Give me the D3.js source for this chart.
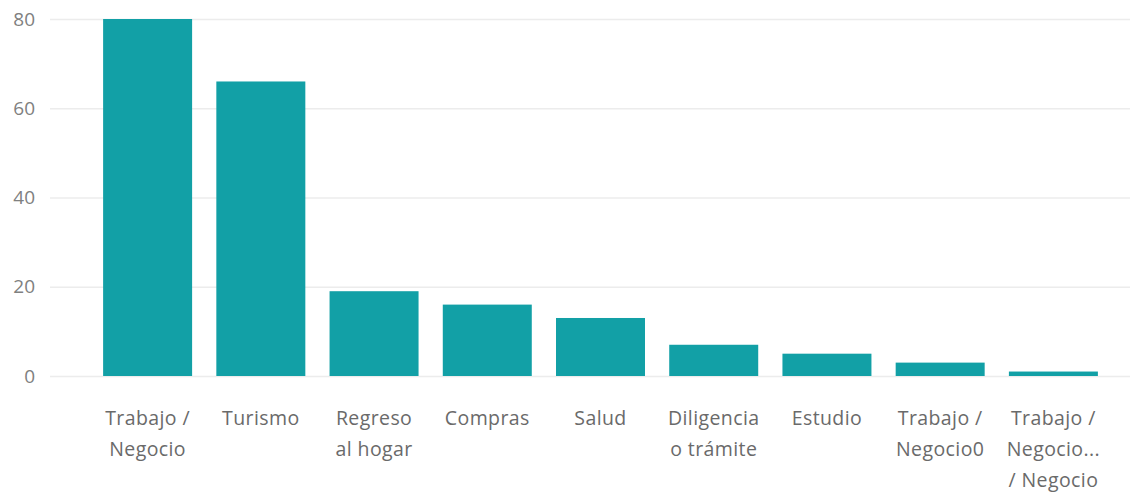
<!DOCTYPE html>
<html>
<head>
<meta charset="utf-8">
<script src="https://cdn.jsdelivr.net/npm/d3@7"></script>
<style>
  html, body { margin: 0; padding: 0; background: #fff; }
  svg { display: block; }
  text { font-family: "Open Sans", "Noto Sans", sans-serif; }
</style>
</head>
<body>
<svg id="chart" width="1143" height="493"></svg>
<script>
// Motivo de viaje: categories (label lines) and counts
const categories = [
  ["Trabajo /", "Negocio"],
  ["Turismo"],
  ["Regreso", "al hogar"],
  ["Compras"],
  ["Salud"],
  ["Diligencia", "o trámite"],
  ["Estudio"],
  ["Trabajo /", "Negocio0"],
  ["Trabajo /", "Negocio...", "/ Negocio"]
];
const values = [80, 66, 19, 16, 13, 7, 5, 3, 1];
const yTicks = [0, 20, 40, 60, 80];

const svg = d3.select("#chart");
const margin = { left: 50, right: 13, top: 19, bottom: 117 };
const W = 1143, H = 493;

const keys = categories.map((c, i) => i);
const x = d3.scaleBand()
  .domain(keys)
  .range([91, 1110])
  .paddingInner(0.214)
  .paddingOuter(0.107);

const y = d3.scaleLinear()
  .domain([0, 80])
  .range([H - margin.bottom, margin.top]);

// Gridlines + y labels
const yAxis = d3.axisLeft(y).tickValues(yTicks).tickSize(-(1130 - margin.left)).tickPadding(15);
const gy = svg.append("g")
  .attr("transform", `translate(${margin.left},0)`)
  .call(yAxis);
gy.select(".domain").remove();
gy.selectAll(".tick line").attr("stroke", "#ececec").attr("stroke-width", 1.5);
gy.selectAll(".tick text")
  .attr("fill", "#808080")
  .attr("font-size", 19);

// Bars
svg.append("g").selectAll("rect")
  .data(values)
  .join("rect")
  .attr("x", (d, i) => x(i))
  .attr("width", x.bandwidth())
  .attr("y", d => y(d))
  .attr("height", d => y(0) - y(d))
  .attr("fill", "#12A0A6");

// Category labels
const lbl = svg.append("g").selectAll("text")
  .data(categories)
  .join("text")
  .attr("x", (d, i) => x(i) + x.bandwidth() / 2)
  .attr("y", 425)
  .attr("text-anchor", "middle")
  .attr("fill", "#6a6a6a")
  .attr("font-size", 19.5)
  .attr("letter-spacing", 0.4);
lbl.selectAll("tspan")
  .data(d => d)
  .join("tspan")
  .attr("x", function () { return d3.select(this.parentNode).attr("x"); })
  .attr("dy", (d, i) => i === 0 ? 0 : 31)
  .text(d => d);
</script>
</body>
</html>
